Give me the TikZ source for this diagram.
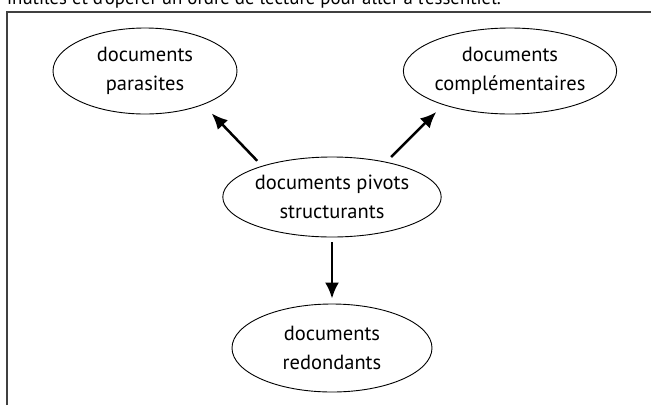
\documentclass[tikz,border=0pt]{standalone}
\usepackage{fontspec}
\setmainfont{PT Sans}
\usetikzlibrary{shapes.geometric,arrows.meta}
\tikzset{
  doc/.style={ellipse, draw, line width=0.9pt, inner sep=0pt, align=center,
    font=\fontsize{20.5}{29}\selectfont},
  arr/.style={line width=2.5pt, -{Latex[length=16pt,width=14pt]}},
  frame/.style={line width=1.4pt, draw=black!75}
}
\begin{document}
\begin{tikzpicture}[x=1pt,y=-1pt]
\useasboundingbox (0,0) rectangle (651,405);
\node[anchor=base west, inner sep=0pt, font=\fontsize{18.8}{20}\selectfont] (top) at (7,4) {inutiles et d'opérer un ordre de lecture pour aller à l'essentiel.};
\draw[frame] (7,405) -- (7,12) -- (651,12);
\node[doc, minimum width=184pt, minimum height=86pt] (par) at (145,71) {documents\\parasites};
\node[doc, minimum width=200pt, minimum height=86pt] (comp) at (510,71) {documents\\complémentaires};
\node[doc, minimum width=200pt, minimum height=80pt] (piv) at (332,197) {documents pivots\\structurants};
\node[doc, minimum width=200pt, minimum height=88pt] (red) at (332,348) {documents\\redondants};
\draw[arr, shorten <=7pt, shorten >=12pt] (piv.156) -- (par.-30);
\draw[arr, shorten <=7pt, shorten >=10pt] (piv.33) -- (comp.207);
\draw[arr, shorten <=5pt, shorten >=5pt] (piv.south) -- (red.north);
\end{tikzpicture}
\end{document}
